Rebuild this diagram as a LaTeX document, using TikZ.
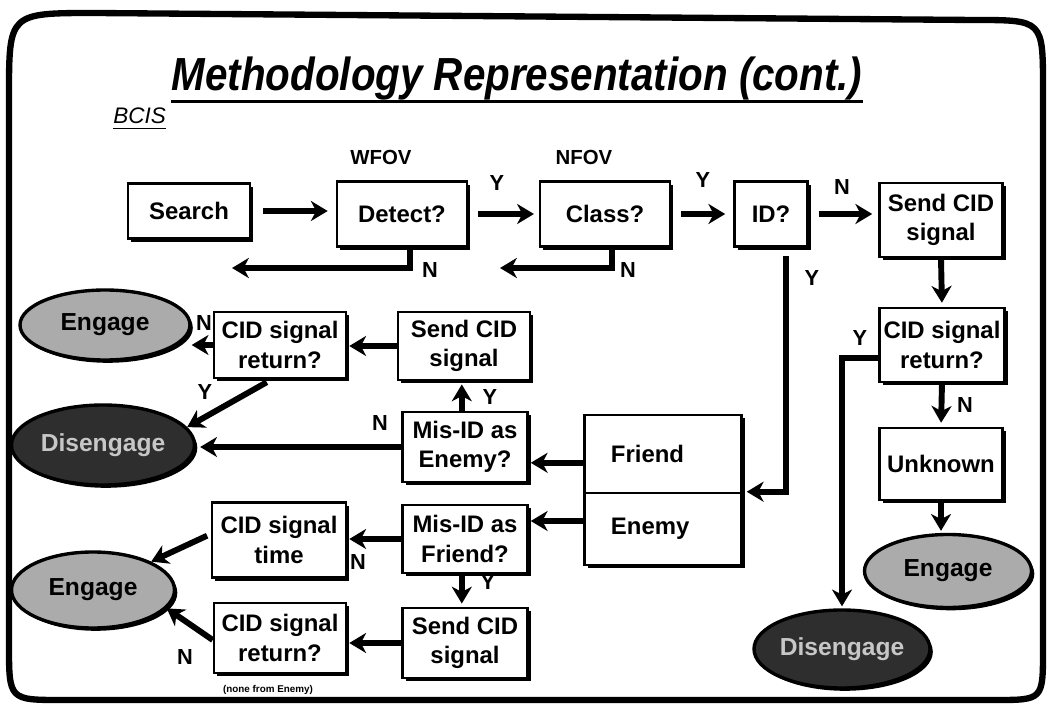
\documentclass[tikz,border=0pt]{standalone}
\usepackage{fontspec}
\setmainfont{Liberation Sans}
\usetikzlibrary{shapes.geometric,arrows.meta,shadows,calc}
\begin{document}
\begin{tikzpicture}[x=0.025cm,y=-0.025cm,
  wh/.style 2 args={minimum width={#1*0.025cm}, minimum height={#2*0.025cm}},
  box/.style={draw, line width=1.8pt, fill=white, inner sep=0pt, align=center,
    font=\fontsize{17}{21}\selectfont\bfseries,
    drop shadow={shadow xshift=2.4pt, shadow yshift=-2.4pt, fill=black, opacity=1}},
  oval/.style={ellipse, draw, line width=2.4pt, inner sep=0pt,
    font=\fontsize{17.5}{21}\selectfont\bfseries,
    drop shadow={shadow xshift=2pt, shadow yshift=-2pt, fill=black, opacity=1}},
  engage/.style={oval, fill=black!33},
  disengage/.style={oval, fill=black!82, text=black!22},
  arr/.style={line width=4.2pt, -{Stealth[length=0.42cm,width=0.5cm,inset=0.13cm]}},
  lbl/.style={font=\fontsize{15.5}{17}\selectfont\bfseries, inner sep=0pt},
  fov/.style={font=\fontsize{14.5}{16}\selectfont\bfseries, inner sep=0pt},
  frame/.style={line width=4.5pt, line join=round}
]
\useasboundingbox (0,0) rectangle (1048,709);

% outer rounded frame
\draw[frame] (95,13) -- (975,20) .. controls (1043,20) .. (1043,88)
  -- (1043,650) .. controls (1043,700) .. (995,700)
  -- (62,700) .. controls (9,700) .. (9,645)
  -- (9,95) .. controls (9,13) .. (95,13) -- cycle;

% headings
\node[anchor=base, inner sep=0pt, xscale=0.87] (title) at (517,91)
  {\fontsize{33}{36}\selectfont\bfseries\itshape Methodology Representation (cont.)};
\draw[line width=1.8pt] ([yshift=-7.5pt]title.base west) -- ([yshift=-7.5pt]title.base east);
\node[anchor=base west, inner sep=0pt] (bcis) at (113,124)
  {\fontsize{16}{18}\selectfont\itshape BCIS};
\draw[line width=0.8pt] ([yshift=-3pt]bcis.base west) -- ([yshift=-3pt]bcis.base east);

% top row
\node[box, wh={122}{55}] (search) at (189,211) {Search};
\node[box, wh={130}{65}] (detect) at (402,214) {Detect?};
\node[box, wh={130}{65}] (class)  at (605,214) {Class?};
\node[box, wh={73}{65}]  (id)     at (771,214) {ID?};
\node[box, wh={123}{74}] (sendR)  at (941,220) {Send CID\\signal};
\node[fov] (wfov) at (381,157) {WFOV};
\node[fov] (nfov) at (584,157) {NFOV};

% right column
\node[box, wh={125}{74}] (retR)    at (942,345) {CID signal\\return?};
\node[box, wh={123}{72}] (unknown) at (941,464) {Unknown};
\node[engage, wh={167}{73}]    (engR) at (948,571) {Engage};
\node[disengage, wh={170}{78}] (disR) at (842,649) {Disengage};

% friend / enemy split box
\node[box, wh={157}{78}, text width=2.6cm, align=left] (friend) at (663,454) {Friend};
\node[box, wh={157}{72}, text width=2.6cm, align=left] (enemy)  at (663,529) {Enemy};

% friend branch
\node[box, wh={125}{70}] (misE)  at (465,447) {Mis-ID as\\Enemy?};
\node[box, wh={132}{68}] (sendL) at (464,346) {Send CID\\signal};
\node[box, wh={132}{66}] (retL)  at (280,345) {CID signal\\return?};
\node[engage, wh={170}{70}]    (engT) at (105,325) {Engage};
\node[disengage, wh={183}{80}] (disT) at (103,445) {Disengage};

% enemy branch
\node[box, wh={125}{68}] (misF)  at (465,539) {Mis-ID as\\Friend?};
\node[box, wh={134}{75}] (timeL) at (279,540) {CID signal\\time};
\node[engage, wh={163}{76}] (engB) at (93,590) {Engage};
\node[box, wh={132}{70}] (retB)  at (280,638) {CID signal\\return?};
\node[box, wh={125}{70}] (sendB) at (465,643) {Send CID\\signal};
\node[font=\fontsize{7}{8}\selectfont\bfseries, inner sep=0pt] (note) at (268,690) {(none from Enemy)};

% turning points of the loops
\coordinate (dN) at (232,268);
\coordinate (cN) at (500,268);

% top row connectors
\draw[arr, shorten <=0.3cm, shorten >=0.2cm] (search.east) -- (search.east -| detect.west);
\draw[arr, shorten <=0.25cm, shorten >=0.12cm] (detect.east) -- (class.west);
\draw[arr, shorten <=0.25cm, shorten >=0.2cm] (class.east) -- (id.west);
\draw[arr, shorten <=0.25cm, shorten >=0.15cm] (id.east) -- (id.east -| sendR.west);
\draw[arr] ([xshift=0.2cm]detect.south) |- (dN);
\draw[arr] ([xshift=0.18cm]class.south) |- (cN);
\draw[arr, shorten >=0.1cm] ([xshift=0.38cm,yshift=-0.2cm]id.south) |- (enemy.north east);

% right column connectors
\draw[arr, shorten >=0.1cm] (sendR.south) -- (retR.north);
\draw[arr, shorten >=0.1cm] (retR.south) -- (unknown.north);
\draw[arr, shorten >=0.05cm] (unknown.south) -- (engR.north -| unknown.south);
\draw[arr, shorten >=0.05cm] ([yshift=-0.32cm]retR.west) -| (disR.north);

% friend branch connectors
\path ([yshift=-0.22cm]friend.west) coordinate (fw);
\draw[arr, shorten >=0.05cm] (fw) -- (fw -| misE.east);
\path ([xshift=-0.08cm]misE.north) coordinate (mn);
\draw[arr, shorten >=0.08cm] (mn) -- (mn |- sendL.south);
\draw[arr, shorten >=0.1cm] (misE.west) -- (misE.west -| disT.east);
\draw[arr, shorten >=0.05cm] (sendL.west) -- (sendL.west -| retL.east);
\draw[arr] (retL.west) -- (retL.west -| engT.east);
\draw[arr, shorten <=0.15cm] ([xshift=-0.2cm]retL.south) -- (disT.12);

% enemy branch connectors
\path ([yshift=0.2cm]enemy.west) coordinate (ew);
\draw[arr, shorten >=0.05cm] (ew) -- (ew -| misF.east);
\draw[arr, shorten >=0.05cm] (misF.west) -- (misF.west -| timeL.east);
\draw[arr, shorten <=0.1cm] ([yshift=0.15cm]timeL.west) -- (engB.26);
\path ([xshift=-0.08cm]misF.south) coordinate (fs);
\draw[arr, shorten >=0.08cm] (fs) -- (fs |- sendB.north);
\draw[arr, shorten >=0.05cm] (sendB.west) -- (sendB.west -| retB.east);
\draw[arr] ([yshift=-0.05cm]retB.west) -- (engB.-14);

% branch labels
\node[lbl] at (497,183) {Y};
\node[lbl] at (703,180) {Y};
\node[lbl] at (842,187) {N};
\node[lbl] at (430,270) {N};
\node[lbl] at (628,270) {N};
\node[lbl] at (812,278) {Y};
\node[lbl] at (860,338) {Y};
\node[lbl] at (965,405) {N};
\node[lbl] at (204,323) {N};
\node[lbl] at (205,392) {Y};
\node[lbl] at (380,423) {N};
\node[lbl] at (490,397) {Y};
\node[lbl] at (358,562) {N};
\node[lbl] at (488,582) {Y};
\node[lbl] at (185,657) {N};
\end{tikzpicture}
\end{document}
